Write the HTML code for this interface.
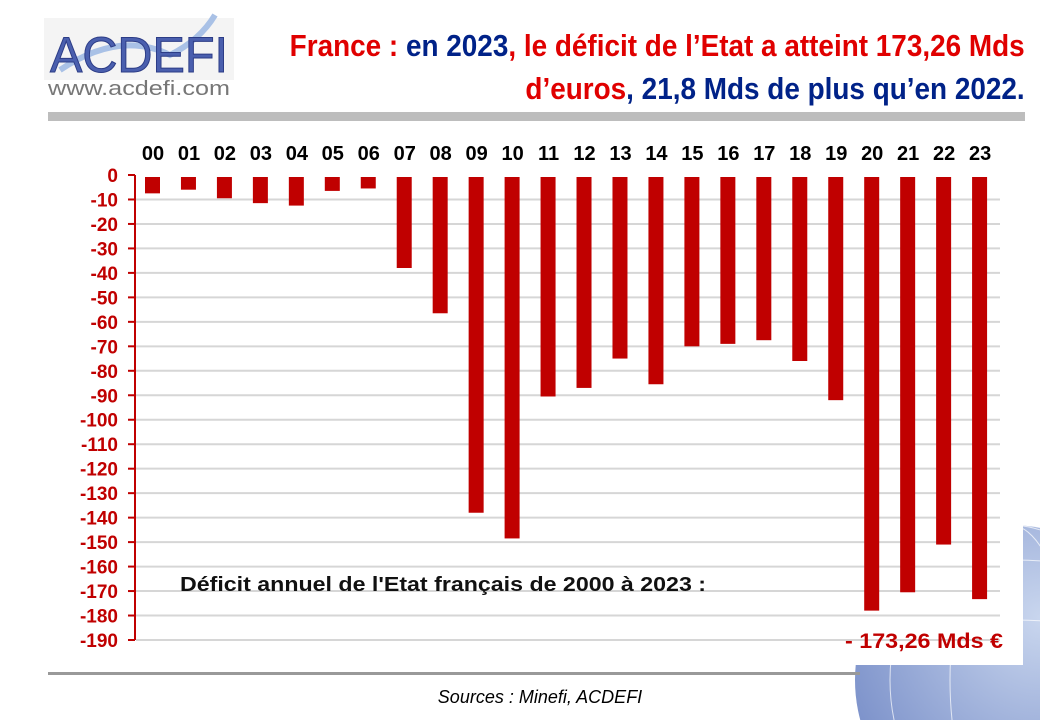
<!DOCTYPE html>
<html><head><meta charset="utf-8"><style>
html,body{margin:0;width:1040px;height:720px;overflow:hidden}
body{background:#fff;position:relative;font-family:"Liberation Sans",sans-serif}
.t{position:absolute;font-weight:bold}
</style></head><body>
<svg width="1040" height="720" style="position:absolute;left:0;top:0">
<defs><radialGradient id="g" cx="0.6" cy="0.3" r="0.8"><stop offset="0" stop-color="#c9d6ee"/><stop offset="1" stop-color="#6f86c4"/></radialGradient></defs>
<circle cx="1010" cy="680" r="155" fill="url(#g)"/>
<g stroke="#fff" stroke-width="1" fill="none" opacity="0.7">
<ellipse cx="1010" cy="680" rx="60" ry="155"/><ellipse cx="1010" cy="680" rx="120" ry="155"/>
<path d="M860 640 Q1010 600 1160 640"/><path d="M870 580 Q1010 540 1150 580"/>
</g>
<rect x="40" y="110" width="983" height="555" fill="#fff"/>
<rect x="48" y="112" width="977" height="9" fill="#bdbdbd"/>
<rect x="48" y="672" width="812" height="3" fill="#999"/>
<rect x="44" y="18" width="190" height="62" fill="#f4f4f4"/>
<path d="M60 70 Q120 30 170 55 Q200 40 215 15" stroke="#a9c1e6" stroke-width="6" fill="none"/>
<text x="50" y="72" font-family="Liberation Sans" font-size="50" fill="#4a5fae" stroke="#2c3c86" stroke-width="1" textLength="178" lengthAdjust="spacingAndGlyphs">ACDEFI</text>
<text x="48" y="95" font-family="Liberation Sans" font-size="20" fill="#777" textLength="182" lengthAdjust="spacingAndGlyphs">www.acdefi.com</text>
<g id="grid" stroke="#d6d6d6" stroke-width="2"></g>
<g id="bars" fill="#c00000"></g>
<line x1="135" y1="175" x2="135" y2="640" stroke="#c00000" stroke-width="2"/>
<g id="ticks" stroke="#c00000" stroke-width="2"></g>
<g id="yl" font-family="Liberation Sans" font-weight="bold" font-size="19" fill="#c00000" text-anchor="end"></g>
<g id="xl" font-family="Liberation Sans" font-weight="bold" font-size="20" fill="#000" text-anchor="middle"></g>
<text x="180" y="591" font-family="Liberation Sans" font-weight="bold" font-size="20" fill="#111" textLength="526" lengthAdjust="spacingAndGlyphs">Déficit annuel de l'Etat français de 2000 à 2023 :</text>
<text x="845" y="648" font-family="Liberation Sans" font-weight="bold" font-size="21" fill="#c00000" textLength="158" lengthAdjust="spacingAndGlyphs">- 173,26 Mds €</text>
<text x="540" y="703" font-family="Liberation Sans" font-style="italic" font-size="18" fill="#000" text-anchor="middle">Sources : Minefi, ACDEFI</text>
</svg>
<div class="t" style="right:15px;top:24px;font-size:31px;text-align:right;line-height:43px;color:#e00000;transform:scaleX(0.9);transform-origin:right;white-space:nowrap">France : <span style="color:#002288">en 2023</span>, le déficit de l’Etat a atteint 173,26 Mds<br>d’euros<span style="color:#002288">, 21,8 Mds de plus qu’en 2022.</span></div>
<script>
const ns="http://www.w3.org/2000/svg";
function el(p,t,a,txt){const e=document.createElementNS(ns,t);for(const k in a)e.setAttribute(k,a[k]);if(txt!=null)e.textContent=txt;document.getElementById(p).appendChild(e);}
const s=465/190;
for(let i=0;i<=19;i++){const y=175+i*10*s;
 if(i>0)el("grid","line",{x1:136,x2:1000,y1:y,y2:y});
 el("ticks","line",{x1:128,x2:135,y1:y,y2:y});
 el("yl","text",{x:118,y:y+7},i==0?"0":"-"+i*10);}
const v=[-7.5,-6,-9.5,-11.5,-12.5,-6.5,-5.5,-38,-56.5,-138,-148.5,-90.5,-87,-75,-85.5,-70,-69,-67.5,-76,-92,-178,-170.5,-151,-173.3];
v.forEach((d,i)=>{const c=153+i*35.96;
 el("bars","rect",{x:c-8,y:177,width:15,height:-d*s-2});
 el("xl","text",{x:c,y:160},String(i).padStart(2,"0"));});
</script>
</body></html>
